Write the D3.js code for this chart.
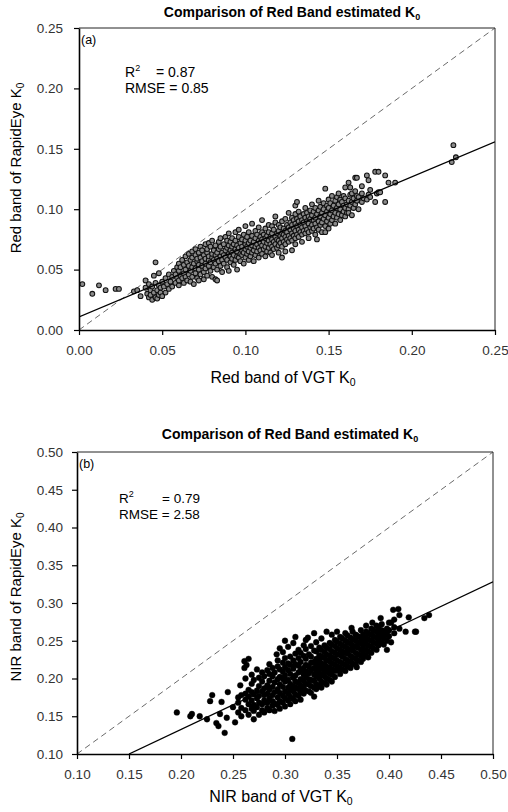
<!DOCTYPE html>
<html>
<head>
<meta charset="utf-8">
<script src="https://cdn.jsdelivr.net/npm/d3@7"></script>
<style>
  body { margin: 0; background: #fff; }
  text { font-family: Arial, "Liberation Sans", sans-serif; }
</style>
</head>
<body>
<div id="chart"></div>
<script>
// tick labels
var redTicks = [0.00, 0.05, 0.10, 0.15, 0.20, 0.25];
var nirTicks = [0.10, 0.15, 0.20, 0.25, 0.30, 0.35, 0.40, 0.45, 0.50];

// regression lines (end points)
var redFit = [[0.00, 0.0108], [0.25, 0.1557]];
var nirFit = [[0.15, 0.100], [0.50, 0.328]];

// panel (a): [VGT K0, [RapidEye K0 ...]]
var redRows = [
  [0.002, [0.038]], [0.008, [0.030]], [0.012, [0.037]], [0.016, [0.033]],
  [0.022, [0.034]], [0.024, [0.034]], [0.033, [0.032]], [0.035, [0.033]], [0.037, [0.028]],
  [0.040, [0.035, 0.041]], [0.041, [0.030]], [0.042, [0.027, 0.038]], [0.043, [0.033, 0.029]],
  [0.044, [0.036, 0.025]], [0.045, [0.031, 0.045]], [0.046, [0.027, 0.039, 0.056]], [0.047, [0.033, 0.026]],
  [0.048, [0.029, 0.037, 0.047]], [0.049, [0.035, 0.031]], [0.050, [0.040, 0.028]], [0.051, [0.036]],
  [0.052, [0.031, 0.043]], [0.053, [0.038]], [0.054, [0.034, 0.046]], [0.055, [0.040]],
  [0.056, [0.036, 0.044]], [0.057, [0.049]], [0.058, [0.039, 0.046]], [0.059, [0.043, 0.052]],
  [0.060, [0.037, 0.041, 0.049, 0.055]], [0.061, [0.045, 0.052]], [0.062, [0.043, 0.058]],
  [0.063, [0.039, 0.047, 0.054]], [0.064, [0.044, 0.050, 0.061]], [0.065, [0.041, 0.056]],
  [0.066, [0.046, 0.053, 0.063]], [0.067, [0.049, 0.058, 0.040]], [0.068, [0.044, 0.052, 0.060, 0.065]],
  [0.069, [0.038, 0.055]], [0.070, [0.047, 0.051, 0.062, 0.067]], [0.071, [0.043, 0.057, 0.059]],
  [0.072, [0.050, 0.054, 0.064, 0.041]], [0.073, [0.046, 0.060, 0.069]], [0.074, [0.053, 0.057, 0.066]],
  [0.075, [0.048, 0.062, 0.042]], [0.076, [0.051, 0.055, 0.059, 0.071]], [0.077, [0.045, 0.064, 0.067]],
  [0.078, [0.053, 0.058, 0.061, 0.072]], [0.079, [0.049, 0.056, 0.069]], [0.080, [0.044, 0.060, 0.063, 0.074]],
  [0.081, [0.052, 0.058, 0.066]], [0.082, [0.055, 0.062, 0.070, 0.042]], [0.083, [0.050, 0.059, 0.064, 0.041]],
  [0.084, [0.057, 0.067, 0.073]], [0.085, [0.053, 0.061, 0.069, 0.076]], [0.086, [0.048, 0.058, 0.064]],
  [0.087, [0.055, 0.062, 0.071]], [0.088, [0.060, 0.066, 0.077]], [0.089, [0.052, 0.058, 0.068, 0.074]],
  [0.090, [0.063, 0.070, 0.080, 0.049]], [0.091, [0.056, 0.061, 0.066, 0.073]], [0.092, [0.059, 0.064, 0.069, 0.076]],
  [0.093, [0.054, 0.062, 0.071]], [0.094, [0.058, 0.067, 0.074, 0.081]], [0.095, [0.050, 0.061, 0.065, 0.070]],
  [0.096, [0.060, 0.068, 0.077, 0.083]], [0.097, [0.057, 0.063, 0.072]], [0.098, [0.062, 0.066, 0.069, 0.075]],
  [0.099, [0.055, 0.064, 0.079]], [0.100, [0.060, 0.067, 0.071, 0.074, 0.086]], [0.101, [0.063, 0.069, 0.077]],
  [0.102, [0.058, 0.065, 0.072, 0.081]], [0.103, [0.061, 0.068, 0.074]], [0.104, [0.064, 0.070, 0.078, 0.088]],
  [0.105, [0.057, 0.066, 0.073]], [0.106, [0.062, 0.069, 0.076, 0.082]], [0.107, [0.065, 0.071, 0.079]],
  [0.108, [0.060, 0.068, 0.074, 0.085]], [0.109, [0.066, 0.072, 0.077]], [0.110, [0.063, 0.070, 0.075, 0.081, 0.091]],
  [0.111, [0.067, 0.073, 0.079]], [0.112, [0.061, 0.069, 0.076, 0.084]], [0.113, [0.065, 0.072, 0.078]],
  [0.114, [0.068, 0.074, 0.081, 0.087]], [0.115, [0.064, 0.071, 0.077]], [0.116, [0.069, 0.075, 0.080, 0.086, 0.062]],
  [0.117, [0.067, 0.073, 0.083]], [0.118, [0.071, 0.077, 0.089, 0.094]], [0.119, [0.068, 0.075, 0.080]],
  [0.120, [0.070, 0.074, 0.082, 0.087, 0.064]], [0.121, [0.072, 0.078, 0.085]], [0.122, [0.069, 0.076, 0.080, 0.090, 0.060]],
  [0.123, [0.073, 0.079, 0.084]], [0.124, [0.071, 0.077, 0.082, 0.092, 0.065]], [0.125, [0.075, 0.081, 0.087]],
  [0.126, [0.073, 0.078, 0.085, 0.097]], [0.127, [0.076, 0.083, 0.089]], [0.128, [0.074, 0.080, 0.087, 0.093, 0.066]],
  [0.129, [0.078, 0.084, 0.091]], [0.130, [0.071, 0.076, 0.082, 0.088, 0.096, 0.103]], [0.131, [0.079, 0.086, 0.092, 0.106]],
  [0.132, [0.077, 0.083, 0.090, 0.098]], [0.133, [0.081, 0.087, 0.094]], [0.134, [0.073, 0.079, 0.085, 0.091]],
  [0.135, [0.082, 0.089, 0.096]], [0.136, [0.080, 0.086, 0.093, 0.101]], [0.137, [0.083, 0.090, 0.097]],
  [0.138, [0.076, 0.081, 0.088, 0.094]], [0.139, [0.085, 0.092, 0.099]], [0.140, [0.082, 0.087, 0.095, 0.104]],
  [0.141, [0.084, 0.091, 0.098]], [0.142, [0.079, 0.088, 0.093, 0.101]], [0.143, [0.085, 0.096, 0.075]],
  [0.144, [0.083, 0.090, 0.099, 0.107]], [0.145, [0.087, 0.094, 0.102]], [0.146, [0.081, 0.089, 0.097]],
  [0.147, [0.092, 0.100, 0.105]], [0.148, [0.086, 0.095, 0.117, 0.081]], [0.149, [0.090, 0.098, 0.103]],
  [0.150, [0.084, 0.093, 0.101, 0.108]], [0.151, [0.088, 0.096, 0.105]], [0.152, [0.091, 0.099, 0.111]],
  [0.153, [0.094, 0.103]], [0.154, [0.088, 0.097, 0.107]], [0.155, [0.093, 0.101, 0.110]],
  [0.156, [0.096, 0.104, 0.113]], [0.157, [0.091, 0.100, 0.108]], [0.158, [0.095, 0.106]],
  [0.159, [0.098, 0.103, 0.111]], [0.160, [0.094, 0.101, 0.109, 0.118]], [0.161, [0.097, 0.104]],
  [0.162, [0.100, 0.107, 0.122, 0.097]], [0.163, [0.103, 0.112, 0.118]], [0.164, [0.095, 0.106, 0.113]],
  [0.165, [0.101, 0.109]], [0.166, [0.104, 0.115, 0.126]], [0.167, [0.107, 0.111, 0.126]],
  [0.168, [0.100, 0.110]], [0.170, [0.106, 0.113, 0.119]], [0.171, [0.109]], [0.173, [0.108, 0.128]],
  [0.174, [0.124, 0.112]], [0.175, [0.110, 0.116]], [0.178, [0.106, 0.131]], [0.179, [0.113]],
  [0.180, [0.114, 0.131]], [0.181, [0.114]], [0.184, [0.106, 0.128]], [0.186, [0.122]], [0.190, [0.122]],
  [0.224, [0.139]], [0.225, [0.153]], [0.2265, [0.143]]
];

// panel (b): [VGT K0, [RapidEye K0 ...]]
var nirRows = [
  [0.196, [0.155]], [0.209, [0.150]], [0.2105, [0.153]], [0.218, [0.150]], [0.225, [0.146]],
  [0.228, [0.170]], [0.230, [0.178]], [0.234, [0.141]], [0.236, [0.137]], [0.2375, [0.153]],
  [0.239, [0.169]], [0.242, [0.128]], [0.244, [0.148]], [0.245, [0.182]], [0.250, [0.162]],
  [0.252, [0.142]], [0.257, [0.191]], [0.261, [0.223, 0.214]], [0.263, [0.218]],
  [0.255, [0.155, 0.168, 0.175]], [0.258, [0.150, 0.161, 0.178]],
  [0.262, [0.158, 0.172, 0.180, 0.200]], [0.265, [0.152, 0.166, 0.176, 0.185, 0.226]],
  [0.268, [0.160, 0.171, 0.182, 0.193, 0.205]], [0.270, [0.146, 0.157, 0.165, 0.179, 0.198]],
  [0.273, [0.162, 0.174, 0.184, 0.212]], [0.275, [0.152, 0.168, 0.177, 0.190, 0.201]],
  [0.278, [0.158, 0.166, 0.183, 0.196, 0.208]], [0.280, [0.155, 0.171, 0.178, 0.187, 0.203]],
  [0.283, [0.161, 0.168, 0.180, 0.191, 0.211]], [0.285, [0.158, 0.174, 0.185, 0.197, 0.206, 0.219]],
  [0.288, [0.164, 0.170, 0.178, 0.189, 0.203, 0.214]], [0.290, [0.157, 0.167, 0.182, 0.195, 0.208]],
  [0.292, [0.232]], [0.293, [0.165, 0.175, 0.186, 0.199, 0.216, 0.224]],
  [0.295, [0.160, 0.170, 0.181, 0.192, 0.202, 0.212, 0.240]], [0.298, [0.168, 0.177, 0.189, 0.200, 0.209, 0.221, 0.235]],
  [0.300, [0.163, 0.174, 0.183, 0.196, 0.204, 0.215, 0.227, 0.250]], [0.303, [0.171, 0.180, 0.188, 0.198, 0.211, 0.220, 0.242]],
  [0.305, [0.166, 0.176, 0.185, 0.193, 0.206, 0.218, 0.229]], [0.307, [0.120]],
  [0.308, [0.173, 0.183, 0.190, 0.201, 0.213, 0.224, 0.247]], [0.310, [0.170, 0.179, 0.188, 0.196, 0.204, 0.219, 0.233, 0.255]],
  [0.313, [0.177, 0.186, 0.194, 0.208, 0.217, 0.227, 0.238]], [0.315, [0.172, 0.182, 0.191, 0.199, 0.211, 0.222, 0.234]],
  [0.317, [0.185]], [0.318, [0.180, 0.188, 0.197, 0.205, 0.214, 0.230, 0.244]],
  [0.320, [0.184, 0.193, 0.203, 0.209, 0.218, 0.226, 0.239, 0.251]],
  [0.322, [0.254]], [0.323, [0.183, 0.192, 0.199, 0.207, 0.216, 0.232]],
  [0.325, [0.181, 0.190, 0.198, 0.211, 0.221, 0.229, 0.243]], [0.328, [0.176, 0.188, 0.197, 0.205, 0.214, 0.222, 0.237, 0.260]],
  [0.330, [0.186, 0.193, 0.203, 0.210, 0.219, 0.226, 0.236, 0.248]], [0.333, [0.191, 0.200, 0.207, 0.215, 0.224, 0.231, 0.241]],
  [0.335, [0.188, 0.196, 0.205, 0.213, 0.220, 0.229, 0.238, 0.253]], [0.338, [0.194, 0.203, 0.210, 0.218, 0.227, 0.235, 0.244]],
  [0.340, [0.192, 0.200, 0.209, 0.216, 0.224, 0.232, 0.241, 0.262]], [0.343, [0.198, 0.206, 0.214, 0.223, 0.230, 0.239, 0.247]],
  [0.345, [0.196, 0.205, 0.212, 0.220, 0.228, 0.236, 0.245, 0.258]], [0.348, [0.202, 0.210, 0.218, 0.226, 0.234, 0.243, 0.251]],
  [0.350, [0.211, 0.216, 0.224, 0.232, 0.240, 0.249, 0.262]], [0.353, [0.206, 0.214, 0.222, 0.231, 0.238, 0.246, 0.255]],
  [0.355, [0.212, 0.220, 0.229, 0.236, 0.244, 0.253]], [0.358, [0.210, 0.218, 0.226, 0.234, 0.242, 0.250, 0.260]],
  [0.360, [0.216, 0.224, 0.233, 0.240, 0.248, 0.257]], [0.363, [0.214, 0.222, 0.230, 0.238, 0.246, 0.254]],
  [0.364, [0.267]], [0.365, [0.220, 0.228, 0.237, 0.244, 0.252, 0.262]], [0.368, [0.218, 0.226, 0.234, 0.242, 0.250, 0.258]],
  [0.369, [0.215]], [0.370, [0.224, 0.232, 0.241, 0.248, 0.256]], [0.373, [0.222, 0.230, 0.238, 0.247, 0.254, 0.264]],
  [0.375, [0.226, 0.234, 0.242, 0.250, 0.258]], [0.378, [0.230, 0.238, 0.246, 0.254, 0.262, 0.270]],
  [0.380, [0.228, 0.236, 0.244, 0.252, 0.260]], [0.383, [0.234, 0.242, 0.250, 0.258, 0.266]], [0.384, [0.274]],
  [0.385, [0.240, 0.248, 0.256, 0.264]], [0.388, [0.238, 0.246, 0.254, 0.262, 0.270]], [0.390, [0.244, 0.252, 0.260, 0.268]],
  [0.392, [0.280]], [0.393, [0.248, 0.256, 0.264, 0.272]], [0.395, [0.245, 0.254, 0.262]], [0.398, [0.238, 0.250, 0.258, 0.266]],
  [0.400, [0.256, 0.264, 0.274]], [0.402, [0.274, 0.248]], [0.404, [0.291]], [0.405, [0.260, 0.268, 0.278]],
  [0.409, [0.292]], [0.410, [0.284, 0.266]], [0.416, [0.262]], [0.419, [0.281]], [0.425, [0.262]],
  [0.426, [0.262]], [0.434, [0.280]], [0.4385, [0.284]]
];

var W = 508, H = 812;
var svg = d3.select("#chart").append("svg")
    .attr("width", W)
    .attr("height", H);

function flatten(rows) {
    var out = [];
    rows.forEach(function (r) {
        r[1].forEach(function (y) { out.push([r[0], y]); });
    });
    return out;
}

// text with a subscript 0 at the end
function addK0(sel, text, subSize) {
    sel.append("tspan").text(text);
    sel.append("tspan").text("0").attr("font-size", subSize).attr("dy", 3);
}

function drawPanel(p) {
    var x = d3.scaleLinear().domain([p.ticks[0], p.ticks[p.ticks.length - 1]]).range([p.left, p.right]);
    var y = d3.scaleLinear().domain([p.ticks[0], p.ticks[p.ticks.length - 1]]).range([p.bottom, p.top]);
    var g = svg.append("g");

    var clipId = "clip-" + p.name;
    g.append("clipPath").attr("id", clipId).append("rect")
        .attr("x", p.left).attr("y", p.top)
        .attr("width", p.right - p.left).attr("height", p.bottom - p.top);

    // frame: top and right
    g.append("path")
        .attr("d", "M" + p.left + "," + p.top + "H" + p.right + "V" + p.bottom)
        .attr("fill", "none").attr("stroke", "#222").attr("stroke-width", 1);

    // 1:1 line
    g.append("line")
        .attr("x1", x(p.ticks[0])).attr("y1", y(p.ticks[0]))
        .attr("x2", x(p.ticks[p.ticks.length - 1])).attr("y2", y(p.ticks[p.ticks.length - 1]))
        .attr("stroke", "#444").attr("stroke-width", 0.8)
        .attr("stroke-dasharray", "6,4");

    // points
    g.append("g").attr("clip-path", "url(#" + clipId + ")")
        .selectAll("circle")
        .data(flatten(p.rows))
        .enter()
        .append("circle")
        .attr("cx", function (d) { return x(d[0]); })
        .attr("cy", function (d) { return y(d[1]); })
        .attr("r", p.r)
        .attr("fill", p.fill)
        .attr("stroke", p.stroke)
        .attr("stroke-width", p.sw);

    // regression line
    g.append("path")
        .datum(p.fit)
        .attr("clip-path", "url(#" + clipId + ")")
        .attr("d", d3.line().x(function (d) { return x(d[0]); }).y(function (d) { return y(d[1]); }))
        .attr("fill", "none").attr("stroke", "#000").attr("stroke-width", 1.3);

    // axes
    var xAxis = g.append("g").attr("transform", "translate(0," + p.bottom + ")")
        .call(d3.axisBottom(x).tickValues(p.ticks).tickFormat(d3.format(".2f")).tickSize(5).tickPadding(10).tickSizeOuter(0));
    var yAxis = g.append("g").attr("transform", "translate(" + p.left + ",0)")
        .call(d3.axisLeft(y).tickValues(p.ticks).tickFormat(d3.format(".2f")).tickSize(5).tickPadding(p.yPad).tickSizeOuter(0));
    [xAxis, yAxis].forEach(function (a) {
        a.select(".domain").attr("stroke", "#000").attr("stroke-width", 1.6);
        a.selectAll(".tick line").attr("stroke", "#000").attr("stroke-width", 1.2);
        a.selectAll(".tick text").attr("font-size", 13.5).attr("fill", "#333")
            .attr("font-family", "Arial, 'Liberation Sans', sans-serif");
    });

    // title
    var cx = (p.left + p.right) / 2;
    var t = g.append("text").attr("x", cx + 5).attr("y", p.titleY)
        .attr("text-anchor", "middle").attr("font-size", 14).attr("font-weight", "bold");
    addK0(t, "Comparison of Red Band estimated K", 9);

    // axis labels
    var xl = g.append("text").attr("x", cx - 4).attr("y", p.xLabelY)
        .attr("text-anchor", "middle").attr("font-size", 16);
    addK0(xl, p.xLabel, 10.5);
    var yl = g.append("text")
        .attr("transform", "translate(21," + p.yLabelMid + ") rotate(-90)")
        .attr("text-anchor", "middle").attr("font-size", 15);
    addK0(yl, p.yLabel, 10);

    // panel letter and stats
    g.append("text").attr("x", p.left + 2).attr("y", p.top + 16)
        .attr("font-size", 12.5).text(p.letter);
    var r2 = g.append("text").attr("x", p.statX).attr("y", p.top + p.statDy).attr("font-size", p.statSize);
    r2.append("tspan").text("R");
    r2.append("tspan").text("2").attr("font-size", 9).attr("dy", -6);
    r2.append("tspan").text(p.r2).attr("x", p.statX + p.r2Off).attr("dy", 6);
    g.append("text").attr("x", p.statX).attr("y", p.top + p.statDy + 16)
        .attr("font-size", p.statSize).text(p.rmse);
}

drawPanel({
    name: "a", ticks: redTicks, rows: redRows, fit: redFit,
    left: 79, right: 495, top: 28, bottom: 330, yPad: 11,
    r: 2.4, fill: "#8a8a8a", stroke: "#111", sw: 1.05,
    titleY: 17, xLabelY: 383, yLabelMid: 168,
    xLabel: "Red band of VGT K", yLabel: "Red band of RapidEye K",
    letter: "(a)", statX: 125, statDy: 49, statSize: 14, r2: "= 0.87", r2Off: 31, rmse: "RMSE = 0.85"
});

drawPanel({
    name: "b", ticks: nirTicks, rows: nirRows, fit: nirFit,
    left: 77, right: 493, top: 452, bottom: 754, yPad: 9,
    r: 2.9, fill: "#000", stroke: "#000", sw: 0.4,
    titleY: 439, xLabelY: 802, yLabelMid: 597,
    xLabel: "NIR band of VGT K", yLabel: "NIR band of RapidEye K",
    letter: "(b)", statX: 119, statDy: 51, statSize: 13.5, r2: "=  0.79", r2Off: 43, rmse: "RMSE = 2.58"
});
</script>
</body>
</html>
